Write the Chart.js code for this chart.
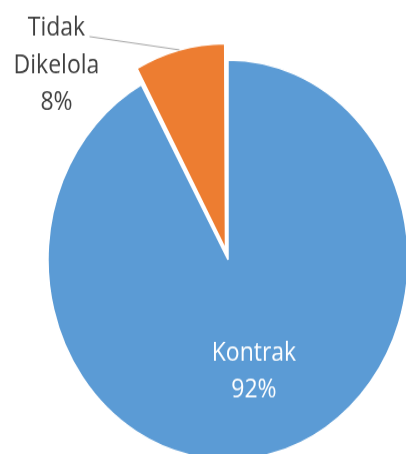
<!DOCTYPE html>
<html lang="id">
<head>
<meta charset="UTF-8">
<title>Kontrak vs Tidak Dikelola</title>
<script src="https://cdn.jsdelivr.net/npm/chart.js"></script>
<style>
    body {
        margin: 0;
        background: #fff;
        overflow: hidden;
    }
    #page {
        width: 406px;
        height: 454px;
        overflow: hidden;
    }
    /* the reference picture is stretched vertically, so the chart is too */
    #wrap {
        width: 406px;
        height: 409px;
        transform: scaleY(1.11);
        transform-origin: 0 0;
    }
</style>
</head>
<body>
<div id="page"><div id="wrap"><canvas id="pie"></canvas></div></div>
<script>
    const categories = ['Kontrak', 'Tidak Dikelola'];
    const values = [92, 8];
    const colors = ['#5B9BD5', '#ED7D31'];

    const total = values.reduce((a, b) => a + b, 0);

    // draws the data labels (inside for the big slice, outside with leader line for the small one)
    const pieLabels = {
        id: 'pieLabels',
        afterDatasetsDraw(chart) {
            const ctx = chart.ctx;
            const arcs = chart.getDatasetMeta(0).data;
            ctx.save();
            ctx.font = '23px "Open Sans"';
            ctx.textAlign = 'center';
            ctx.textBaseline = 'middle';

            arcs.forEach((arc, i) => {
                const p = arc.getProps(['x', 'y', 'startAngle', 'endAngle', 'outerRadius', 'circumference'], true);
                const mid = (p.startAngle + p.endAngle) / 2;
                const pct = Math.round(values[i] / total * 100) + '%';
                const off = (arc.options.offset || 0) / 4;
                const shift = off * (2 - Math.sin(Math.min(Math.PI, p.circumference)));

                if (values[i] / total > 0.5) {
                    const r = p.outerRadius * 0.58;
                    const cx = p.x + Math.cos(mid) * r;
                    const cy = p.y + Math.sin(mid) * r;
                    ctx.fillStyle = '#ffffff';
                    ctx.fillText(categories[i], cx, cy - 16.5);
                    ctx.fillText(pct, cx, cy + 16.5);
                } else {
                    const r = p.outerRadius + shift;
                    const ex = p.x + Math.cos(mid) * r;
                    const ey = p.y + Math.sin(mid) * r;
                    const sx = ex - 90;
                    const sy = ey - 12;
                    ctx.strokeStyle = '#A6A6A6';
                    ctx.lineWidth = 1;
                    ctx.beginPath();
                    ctx.moveTo(sx, sy);
                    ctx.lineTo(ex, ey);
                    ctx.stroke();
                    const lines = categories[i].split(' ').concat(pct);
                    ctx.fillStyle = '#404040';
                    lines.forEach((t, k) => {
                        ctx.fillText(t, sx - 33, sy - 7 + k * 33.5);
                    });
                }
            });
            ctx.restore();
        }
    };

    new Chart(document.getElementById('pie'), {
        type: 'pie',
        data: {
            labels: categories,
            datasets: [{
                data: values,
                backgroundColor: colors,
                borderColor: '#ffffff',
                borderWidth: 1.5,
                offset: [0, 40],
                clip: false
            }]
        },
        options: {
            responsive: true,
            maintainAspectRatio: false,
            animation: false,
            events: [],
            radius: 180,
            layout: { padding: { left: 50, top: 59, right: 0, bottom: 0 } },
            plugins: {
                legend: { display: false },
                tooltip: { enabled: false }
            }
        },
        plugins: [pieLabels]
    });
</script>
</body>
</html>
